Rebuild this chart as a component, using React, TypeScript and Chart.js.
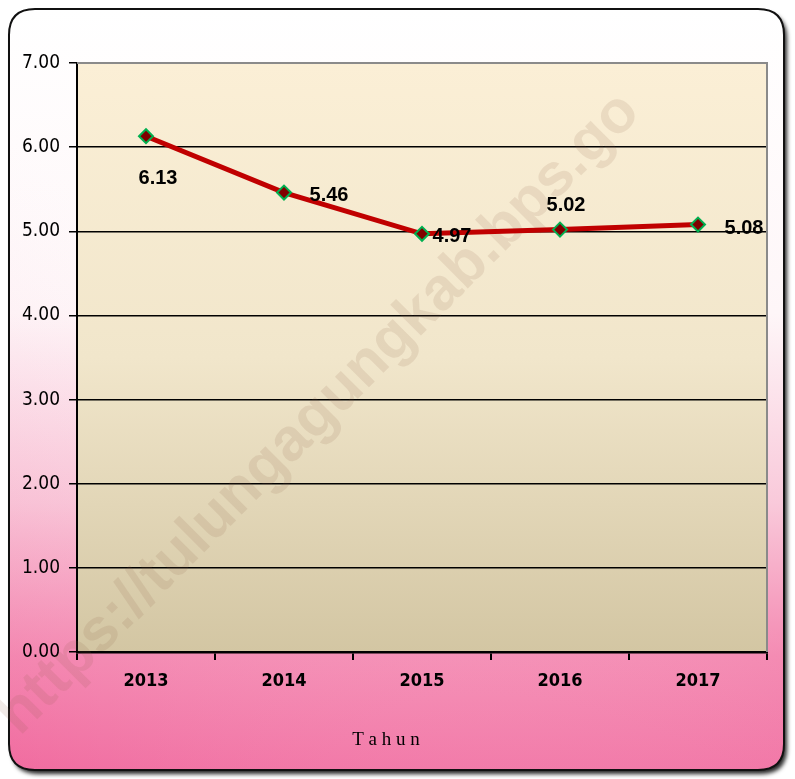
import React, { useEffect, useRef } from "react";
import { Chart, registerables } from "chart.js";

Chart.register(...registerables);

const years = ["2013", "2014", "2015", "2016", "2017"];
const values = [6.13, 5.46, 4.97, 5.02, 5.08];
const labelTexts = ["6.13", "5.46", "4.97", "5.02", "5.08"];
const axisTitle = "T a h u n";
const watermark = "https://tulungagungkab.bps.go";

const labelOffsets = [
  [12, 42],
  [45, 3],
  [30, 3],
  [6, -24],
  [46, 4],
];

const NARROW = '"DejaVu Sans Condensed", "Liberation Sans Narrow", Arial, sans-serif';

const framePlugin = {
  id: "frame",
  beforeDraw(chart: any) {
    const { ctx, width, height, chartArea } = chart;
    ctx.save();
    ctx.fillStyle = "#ffffff";
    ctx.fillRect(0, 0, width, height);
    const x = 9, y = 9, w = width - 20, h = height - 18, r = 26;
    const path = () => {
      ctx.beginPath();
      ctx.moveTo(x + r, y);
      ctx.lineTo(x + w - r, y);
      ctx.quadraticCurveTo(x + w, y, x + w, y + r);
      ctx.lineTo(x + w, y + h - r);
      ctx.quadraticCurveTo(x + w, y + h, x + w - r, y + h);
      ctx.lineTo(x + r, y + h);
      ctx.quadraticCurveTo(x, y + h, x, y + h - r);
      ctx.lineTo(x, y + r);
      ctx.quadraticCurveTo(x, y, x + r, y);
      ctx.closePath();
    };
    ctx.shadowColor = "rgba(0,0,0,0.85)";
    ctx.shadowBlur = 4;
    ctx.shadowOffsetX = 3;
    ctx.shadowOffsetY = 4;
    path();
    const g = ctx.createLinearGradient(0, y, 0, y + h);
    g.addColorStop(0, "#ffffff");
    g.addColorStop(0.4, "#fef6f8");
    g.addColorStop(0.65, "#f9c9da");
    g.addColorStop(0.85, "#f48ab2");
    g.addColorStop(1, "#f170a2");
    ctx.fillStyle = g;
    ctx.fill();
    ctx.shadowColor = "transparent";
    const g2 = ctx.createLinearGradient(x, y + h, x + w * 0.4, y + h * 0.4);
    g2.addColorStop(0, "rgba(240,100,155,0.35)");
    g2.addColorStop(1, "rgba(255,255,255,0.0)");
    path();
    ctx.fillStyle = g2;
    ctx.fill();
    ctx.lineWidth = 2;
    ctx.strokeStyle = "#111";
    path();
    ctx.stroke();

    const { left, right, top, bottom } = chartArea;
    const pg = ctx.createLinearGradient(0, top, 0, bottom);
    pg.addColorStop(0, "#fbefd6");
    pg.addColorStop(0.5, "#f1e6cb");
    pg.addColorStop(1, "#d3c6a3");
    ctx.fillStyle = pg;
    ctx.fillRect(left, top, right - left, bottom - top);
    ctx.restore();
  },
  beforeDatasetsDraw(chart: any) {
    const { ctx, chartArea } = chart;
    ctx.save();
    ctx.strokeStyle = "#8a8a8a";
    ctx.lineWidth = 2;
    ctx.beginPath();
    ctx.moveTo(chartArea.left, chartArea.top);
    ctx.lineTo(chartArea.right, chartArea.top);
    ctx.lineTo(chartArea.right, chartArea.bottom);
    ctx.stroke();
    ctx.translate(8, 725);
    ctx.rotate(-Math.PI / 4);
    ctx.font = 'bold 60px "Liberation Sans", Arial, sans-serif';
    ctx.fillStyle = "rgba(140,90,70,0.13)";
    ctx.textBaseline = "middle";
    ctx.fillText(watermark, 0, 0);
    ctx.restore();
  },
  afterDatasetsDraw(chart: any) {
    const { ctx } = chart;
    const meta = chart.getDatasetMeta(0);
    ctx.save();
    ctx.font = 'bold 20px "Liberation Sans", Arial, sans-serif';
    ctx.fillStyle = "#000";
    ctx.textAlign = "center";
    ctx.textBaseline = "middle";
    meta.data.forEach((pt: any, i: number) => {
      const [dx, dy] = labelOffsets[i];
      ctx.fillText(labelTexts[i], pt.x + dx, pt.y + dy);
    });
    ctx.font = '19px "Liberation Serif", "Times New Roman", serif';
    ctx.fillText(axisTitle, 386, 740);
    ctx.restore();
  },
};

export default function App() {
  const ref = useRef<HTMLCanvasElement>(null);
  useEffect(() => {
    document.body.style.margin = "0";
    const chart = new Chart(ref.current!, {
      type: "line",
      data: {
        labels: years,
        datasets: [
          {
            data: values,
            borderColor: "#c00000",
            borderWidth: 5,
            tension: 0,
            pointStyle: "rectRot",
            pointRadius: 7,
            pointBackgroundColor: "#800000",
            pointBorderColor: "#00b050",
            pointBorderWidth: 2,
          },
        ],
      },
      plugins: [framePlugin],
      options: {
        animation: false,
        responsive: false,
        devicePixelRatio: 1,
        layout: { padding: { left: 0, top: 63, right: 28, bottom: 0 } },
        plugins: { legend: { display: false }, tooltip: { enabled: false } },
        scales: {
          x: {
            offset: true,
            grid: {
              offset: true,
              drawOnChartArea: false,
              drawTicks: true,
              tickLength: 8,
              color: "#000",
              lineWidth: 2,
            },
            border: { color: "#000", width: 2.5 },
            ticks: {
              padding: 11,
              color: "#000",
              font: { family: NARROW, size: 18, weight: "bold" },
            },
            afterFit(scale: any) {
              scale.height = 779 - 652;
            },
          },
          y: {
            min: 0,
            max: 7,
            ticks: {
              stepSize: 1,
              padding: 9,
              color: "#000",
              font: { family: NARROW, size: 19 },
              callback: (v: any) => Number(v).toFixed(2),
            },
            grid: { color: "#000", lineWidth: 1.5, tickLength: 8 },
            border: { color: "#000", width: 2 },
            afterFit(scale: any) {
              scale.width = 77;
            },
          },
        },
      },
    });
    return () => chart.destroy();
  }, []);
  return (
    <div style={{ width: 795, height: 779 }}>
      <canvas ref={ref} width={795} height={779} style={{ display: "block" }} />
    </div>
  );
}
